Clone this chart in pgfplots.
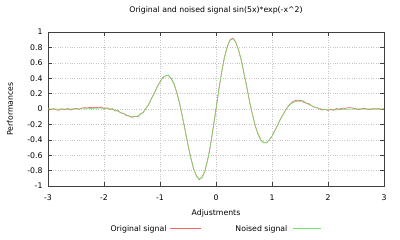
\documentclass[border=0pt]{standalone}
\usepackage{fontspec}
\setmainfont{DejaVu Sans}
\usepackage{pgfplots}
\pgfplotsset{compat=1.18}
\usepackage{pgfplotstable}
\definecolor{origc}{RGB}{245,100,100}
\definecolor{noisc}{RGB}{110,228,110}
\pgfplotstableread{
x smooth noisy
-3.00 0.0000 0.0050
-2.95 0.0000 -0.0080
-2.90 0.0000 0.0030
-2.85 0.0000 -0.0120
-2.80 0.0000 -0.0150
-2.75 0.0000 0.0020
-2.70 0.0000 -0.0100
-2.65 0.0000 0.0060
-2.60 0.0000 -0.0130
-2.55 0.0000 0.0000
-2.50 0.0001 0.0080
-2.45 0.0008 -0.0040
-2.40 0.0017 0.0100
-2.35 0.0029 0.0180
-2.30 0.0044 0.0120
-2.25 0.0062 0.0240
-2.20 0.0079 0.0150
-2.15 0.0095 0.0230
-2.10 0.0107 0.0160
-2.05 0.0110 0.0250
-2.00 0.0100 0.0060
-1.95 0.0071 0.0150
-1.90 0.0020 -0.0050
-1.85 -0.0057 0.0040
-1.80 -0.0161 -0.0250
-1.75 -0.0292 -0.0200
-1.70 -0.0444 -0.0520
-1.65 -0.0606 -0.0560
-1.60 -0.0765 -0.0850
-1.55 -0.0900 -0.0920
-1.50 -0.0989 -0.1080
-1.45 -0.1006 -0.0950
-1.40 -0.0925 -0.0990
-1.35 -0.0727 -0.0650
-1.30 -0.0397 -0.0450
-1.25 0.0070 0.0120
-1.20 0.0662 0.0600
-1.15 0.1359 0.1420
-1.10 0.2104 0.2050
-1.05 0.2852 0.2900
-1.00 0.3528 0.3490
-0.95 0.4053 0.4110
-0.90 0.4349 0.4300
-0.85 0.4346 0.4400
-0.80 0.3991 0.3950
-0.75 0.3257 0.3300
-0.70 0.2149 0.2110
-0.65 0.0709 0.0750
-0.60 -0.0985 -0.1020
-0.55 -0.2820 -0.2780
-0.50 -0.4661 -0.4700
-0.45 -0.6354 -0.6310
-0.40 -0.7749 -0.7800
-0.35 -0.8705 -0.8660
-0.30 -0.9116 -0.9180
-0.25 -0.8915 -0.8870
-0.20 -0.8085 -0.8120
-0.15 -0.6665 -0.6620
-0.10 -0.4747 -0.4790
-0.05 -0.2468 -0.2420
0.00 0.0000 -0.0040
0.05 0.2468 0.2510
0.10 0.4747 0.4710
0.15 0.6665 0.6700
0.20 0.8085 0.8040
0.25 0.8915 0.8970
0.30 0.9116 0.9200
0.35 0.8705 0.8740
0.40 0.7749 0.7710
0.45 0.6354 0.6390
0.50 0.4661 0.4620
0.55 0.2820 0.2860
0.60 0.0985 0.0950
0.65 -0.0709 -0.0670
0.70 -0.2149 -0.2190
0.75 -0.3257 -0.3220
0.80 -0.3991 -0.4030
0.85 -0.4346 -0.4390
0.90 -0.4349 -0.4400
0.95 -0.4053 -0.4010
1.00 -0.3528 -0.3560
1.05 -0.2852 -0.2810
1.10 -0.2104 -0.2140
1.15 -0.1359 -0.1320
1.20 -0.0662 -0.0700
1.25 -0.0070 -0.0030
1.30 0.0397 0.0450
1.35 0.0727 0.0810
1.40 0.0925 0.1050
1.45 0.1006 0.1150
1.50 0.0989 0.1100
1.55 0.0900 0.1050
1.60 0.0765 0.0820
1.65 0.0606 0.0700
1.70 0.0444 0.0480
1.75 0.0292 0.0250
1.80 0.0161 0.0180
1.85 0.0057 0.0010
1.90 -0.0020 -0.0120
1.95 -0.0071 -0.0050
2.00 -0.0100 -0.0180
2.05 -0.0110 -0.0030
2.10 -0.0107 -0.0150
2.15 -0.0095 0.0060
2.20 -0.0079 -0.0050
2.25 -0.0062 0.0120
2.30 -0.0044 0.0080
2.35 -0.0029 0.0150
2.40 -0.0017 0.0160
2.45 -0.0008 0.0100
2.50 -0.0001 0.0020
2.55 0.0000 -0.0060
2.60 0.0000 0.0040
2.65 0.0000 0.0080
2.70 0.0000 -0.0030
2.75 0.0000 -0.0070
2.80 0.0000 0.0050
2.85 0.0000 -0.0020
2.90 0.0000 0.0060
2.95 0.0000 -0.0050
3.00 0.0000 0.0030
}\sigdata
\begin{document}
\begin{tikzpicture}
\useasboundingbox (0,0) rectangle (400bp,240bp);
\begin{axis}[
  at={(48bp,54bp)}, anchor=south west,
  scale only axis, width=336bp, height=154bp,
  xmin=-3, xmax=3, ymin=-1, ymax=1,
  font=\fontsize{7.8}{9}\selectfont,
  xtick={-3,-2,-1,0,1,2,3},
  xticklabels={-3,-2,-1,0,1,2,3},
  ytick={-1,-0.8,-0.6,-0.4,-0.2,0,0.2,0.4,0.6,0.8,1},
  yticklabels={-1,-0.8,-0.6,-0.4,-0.2,0,0.2,0.4,0.6,0.8,1},
  xticklabel style={anchor=base, yshift=-14bp},
  yticklabel style={anchor=east, xshift=-2bp},
  grid=major,
  major grid style={dotted, gray!45, line width=0.45bp},
  axis line style={black!75, line width=0.6bp},
  tick style={black!75, line width=0.6bp},
  major tick length=4bp,
  tick align=inside,
  title={Original and noised signal sin(5x)*exp(-x\string^2)},
  title style={at={(axis description cs:0.5,1)}, anchor=base, yshift=14bp},
  xlabel={Adjustments},
  xlabel style={at={(axis description cs:0.5,0)}, anchor=base, yshift=-29bp},
  ylabel={Performances},
  ylabel style={at={(axis description cs:-0.113,0.5)}, anchor=center},
  legend columns=2,
  legend plot pos=none,
  legend style={draw=none, fill=none, at={(axis description cs:0.5,0)}, anchor=center, yshift=-43bp, font=\fontsize{7.8}{9}\selectfont, column sep=30bp},
]
\addplot[draw=origc, line width=0.75bp] table[x=x, y=noisy] {\sigdata};
\addlegendentry{Original signal\hspace{4bp}\textcolor{origc}{\rule[2.7bp]{31bp}{0.45bp}}}
\addplot[draw=noisc, line width=0.6bp] table[x=x, y=smooth] {\sigdata};
\addlegendentry{Noised signal\hspace{6bp}\textcolor{noisc}{\rule[2.7bp]{28bp}{0.45bp}}}
\end{axis}
\end{tikzpicture}
\end{document}
